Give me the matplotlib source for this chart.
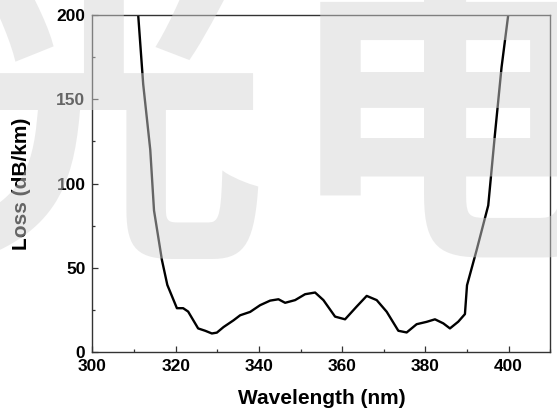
import matplotlib
matplotlib.use("Agg")
import matplotlib.pyplot as plt
from matplotlib.ticker import MultipleLocator

# Data
wavelength = [311.0, 312.2, 313.9, 314.8, 316.7, 318.0, 320.3, 321.8, 323.0, 325.4,
              327.1, 328.7, 329.9, 331.5, 333.9, 335.5, 337.9, 340.3, 342.7, 344.7,
              346.3, 348.7, 351.1, 353.5, 355.5, 358.3, 360.7, 363.5, 365.9, 368.3,
              370.7, 373.5, 375.5, 377.9, 380.3, 382.3, 384.3, 385.9, 387.9, 389.5,
              390.0, 392.3, 395.1, 396.7, 398.3, 399.9]
loss = [200, 159, 120, 84, 54.6, 39.8, 26, 26, 24, 14,
        12.6, 11, 11.5, 14.8, 18.8, 21.8, 23.8, 27.8, 30.5, 31.3,
        29.2, 30.8, 34.3, 35.3, 30.8, 21, 19.4, 27, 33.3, 30.8,
        23.9, 12.6, 11.6, 16.5, 17.9, 19.4, 17, 14, 18, 22.5,
        39.6, 60.4, 87, 129, 169, 200]
xticks = [300, 320, 340, 360, 380, 400]
yticks = [0, 50, 100, 150, 200]

plt.rcParams['font.family'] = ['Liberation Sans', 'DejaVu Sans']

fig = plt.figure(figsize=(5.57, 4.15), dpi=100)
ax = fig.add_axes([0.1659, 0.1518, 0.822, 0.812])

ax.plot(wavelength, loss, color='black', lw=1.7, solid_joinstyle='round')
ax.set_xlim(300, 410)
ax.set_ylim(0, 200)
ax.set_xticks(xticks)
ax.set_yticks(yticks)
ax.xaxis.set_minor_locator(MultipleLocator(10))
ax.yaxis.set_minor_locator(MultipleLocator(25))
ax.tick_params(which='major', direction='in', length=4.3, width=0.9, pad=5,
               labelsize=12.5, colors='#333333', labelcolor='black')
ax.tick_params(which='minor', direction='in', length=2.3, width=0.9, colors='#333333')
for lab in ax.get_xticklabels() + ax.get_yticklabels():
    lab.set_fontweight('bold')
for s in ax.spines.values():
    s.set_linewidth(1.0)
    s.set_color('#333333')

ax.set_xlabel('Wavelength (nm)', fontsize=15, fontweight='bold')
ax.set_ylabel('Loss (dB/km)', fontsize=15, fontweight='bold')
ax.xaxis.set_label_coords(0.5, -0.110)
ax.yaxis.set_label_coords(-0.134, 0.5)

# watermark
wm = dict(fontsize=235, color='#d4d4d4', alpha=0.48, family=['Noto Sans CJK SC'],
          ha='left', va='center', fontweight='bold')
fig.text(-0.105, 0.67, '光', **wm)
fig.text(0.51, 0.67, '电', **wm)

fig.savefig('out.png', dpi=100)
